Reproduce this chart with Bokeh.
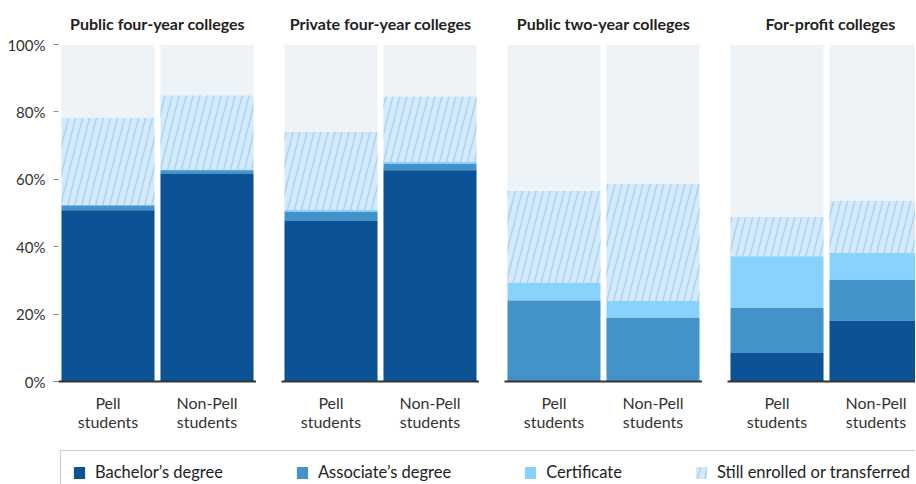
import base64
from bokeh.plotting import figure
from bokeh.models import (ColumnDataSource, Range1d, FixedTicker, Legend, LegendItem,
                          ImageURLTexture)
from bokeh.layouts import row, column
from bokeh.core.properties import value
from bokeh.embed import file_html
from bokeh.resources import INLINE

colleges = ["Public four-year colleges", "Private four-year colleges",
            "Public two-year colleges", "For-profit colleges"]
groups = ["Pell\nstudents", "Non-Pell\nstudents"]
bachelor = [[50.8, 61.6], [47.6, 62.7], [0.3, 0.0], [8.6, 18.0]]
associate = [[1.4, 1.1], [2.8, 1.9], [23.7, 18.9], [13.3, 12.2]]
certificate = [[0.2, 0.2], [0.5, 0.5], [5.3, 5.0], [15.3, 8.0]]
still_enrolled = [[25.8, 22.0], [23.1, 19.5], [27.2, 34.7], [11.6, 15.4]]
series_names = ["Bachelor\u2019s degree", "Associate\u2019s degree", "Certificate",
                "Still enrolled or transferred"]
y_ticks = [0, 20, 40, 60, 80, 100]

C_BACH = "#0b5394"
C_ASSOC = "#4392ca"
C_CERT = "#88d3fd"
C_STILL = "#d6e9f8"
C_HATCH = "#a6d5f8"
C_REST = "#eef3f8"
FONT = "Lato"

tile = ('<svg xmlns="http://www.w3.org/2000/svg" width="7" height="28">'
        '<g stroke="#a6d5f8" stroke-width="1.6">'
        '<line x1="-7" y1="28" x2="0" y2="0"/><line x1="0" y1="28" x2="7" y2="0"/>'
        '<line x1="7" y1="28" x2="14" y2="0"/></g></svg>')
tile_url = "data:image/svg+xml;base64," + base64.b64encode(tile.encode()).decode()
steep = ImageURLTexture(url=tile_url, repetition="repeat")

PLOT_W = 198
GAP = 25
LEFT = 58
FRAME_H = 339
TOP = 42
BOTTOM = 69
widths = [LEFT + PLOT_W, GAP + PLOT_W, GAP + PLOT_W, 915 - (LEFT + PLOT_W) - 2 * (GAP + PLOT_W)]
xs = [i + 0.5 for i in range(len(groups))]

figs = []
for k, name in enumerate(colleges):
    b = bachelor[k]
    a = associate[k]
    c = certificate[k]
    s = still_enrolled[k]
    src = ColumnDataSource(dict(
        x=xs,
        b0=[0, 0], b1=b,
        a0=b, a1=[b[i] + a[i] for i in range(2)],
        c0=[b[i] + a[i] for i in range(2)], c1=[b[i] + a[i] + c[i] for i in range(2)],
        s0=[b[i] + a[i] + c[i] for i in range(2)],
        s1=[b[i] + a[i] + c[i] + s[i] for i in range(2)],
        top=[100, 100],
    ))
    left = LEFT if k == 0 else GAP
    plot_w = widths[k] - left
    x_end = len(groups) * plot_w / PLOT_W
    p = figure(x_range=Range1d(0, x_end), y_range=Range1d(0, 100),
               width=widths[k], height=TOP + FRAME_H + BOTTOM,
               min_border_left=left, min_border_right=0, min_border_top=TOP,
               min_border_bottom=BOTTOM, output_backend="svg", toolbar_location=None,
               title=name)
    p.title.align = "center"
    p.title.text_font = FONT
    p.title.text_font_size = "16px"
    p.title.text_font_style = "bold"
    p.title.text_color = "#222222"
    p.title.offset = 0
    p.title.standoff = 23
    if k == 3:
        p.title.align = "left"
        p.title.offset = 38
    W = 0.94
    p.vbar(x="x", bottom="s1", top="top", width=W, source=src, fill_color=C_REST, line_color=None)
    p.vbar(x="x", bottom="s0", top="s1", width=W, source=src, fill_color=C_STILL, line_color=None,
           hatch_pattern=value("steep"), hatch_extra={"steep": steep}, hatch_color=C_HATCH)
    p.vbar(x="x", bottom="c0", top="c1", width=W, source=src, fill_color=C_CERT, line_color=None)
    p.vbar(x="x", bottom="a0", top="a1", width=W, source=src, fill_color=C_ASSOC, line_color=None)
    p.vbar(x="x", bottom="b0", top="b1", width=W, source=src, fill_color=C_BACH, line_color=None)

    p.xgrid.grid_line_color = None
    p.ygrid.grid_line_color = None
    p.outline_line_color = None
    p.xaxis.ticker = FixedTicker(ticks=xs)
    p.xaxis.major_label_overrides = {x: g for x, g in zip(xs, groups)}
    p.xaxis.axis_line_color = "#333333"
    p.xaxis.axis_line_width = 2
    p.xaxis.major_tick_line_color = None
    p.xaxis.minor_tick_line_color = None
    p.xaxis.major_label_text_font = FONT
    p.xaxis.major_label_text_font_size = "16px"
    p.xaxis.major_label_text_line_height = 1.0
    p.xaxis.major_label_text_color = "#333333"
    p.xaxis.major_label_standoff = 5
    if k == 0:
        p.yaxis.ticker = FixedTicker(ticks=y_ticks)
        p.yaxis.major_label_overrides = {t: f"{t}%" for t in y_ticks}
        p.yaxis.axis_line_color = None
        p.yaxis.major_tick_line_color = "#888888"
        p.yaxis.major_tick_in = 0
        p.yaxis.major_tick_out = 5
        p.yaxis.minor_tick_line_color = None
        p.yaxis.major_label_text_font = FONT
        p.yaxis.major_label_text_font_size = "15px"
        p.yaxis.major_label_text_color = "#333333"
        p.yaxis.major_label_standoff = 8
    else:
        p.yaxis.visible = False
    figs.append(p)

total_w = sum(figs[i].width for i in range(len(figs)))
lg = figure(width=total_w, height=34, x_range=Range1d(0, 1), y_range=Range1d(0, 1),
            output_backend="svg", toolbar_location=None, min_border=0)
lg.axis.visible = False
lg.grid.visible = False
lg.outline_line_color = None
hidden = ColumnDataSource(dict(x=[5], t=[5]))
r1 = lg.vbar(x="x", top="t", width=0.1, source=hidden, fill_color=C_BACH, line_color=None)
r2 = lg.vbar(x="x", top="t", width=0.1, source=hidden, fill_color=C_ASSOC, line_color=None)
r3 = lg.vbar(x="x", top="t", width=0.1, source=hidden, fill_color=C_CERT, line_color=None)
r4 = lg.vbar(x="x", top="t", width=0.1, source=hidden, fill_color=C_STILL, line_color=None,
             hatch_pattern=value("steep"), hatch_extra={"steep": steep}, hatch_color=C_HATCH)
legend = Legend(items=[LegendItem(label=series_names[i], renderers=[r])
                       for i, r in enumerate([r1, r2, r3, r4])],
                orientation="horizontal", location=(60, -10))
legend.glyph_width = 14
legend.glyph_height = 15
legend.label_standoff = 9
legend.label_height = 20
legend.spacing = 72
legend.padding = 11
legend.margin = 0
legend.label_text_font = FONT
legend.label_text_font_size = "16.5px"
legend.label_text_color = "#222222"
legend.border_line_color = "#999999"
legend.border_line_width = 1
legend.background_fill_color = "white"
lg.add_layout(legend, "center")

layout = column(row(*figs, spacing=0), lg, spacing=0)
open("out.html", "w").write(file_html(layout, INLINE))
